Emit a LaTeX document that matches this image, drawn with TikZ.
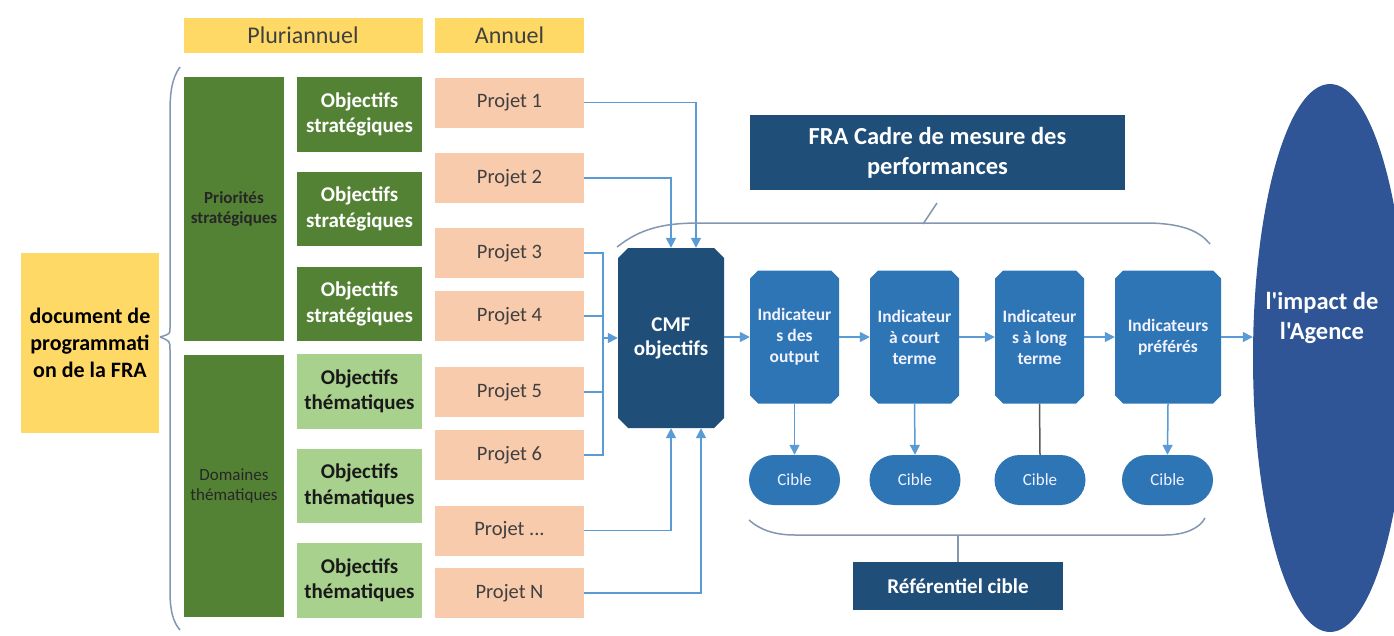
\documentclass[tikz,border=0pt]{standalone}
\usepackage{fontspec}
\setmainfont{Carlito}[Ligatures=TeXOff]
\usetikzlibrary{shapes.misc,shapes.geometric,arrows.meta}
\definecolor{yel}{HTML}{FFD966}
\definecolor{dgreen}{HTML}{548235}
\definecolor{lgreen}{HTML}{A9D18E}
\definecolor{peach}{HTML}{F8CBAD}
\definecolor{navy}{HTML}{1F4E79}
\definecolor{midblue}{HTML}{2E75B6}
\definecolor{ellblue}{HTML}{2F5597}
\definecolor{conn}{HTML}{5B9BD5}
\definecolor{bracec}{HTML}{8497B0}
\definecolor{txtd}{HTML}{404040}
\begin{document}
\begin{tikzpicture}[x=1pt,y=-1pt,
  box/.style={rectangle,inner sep=0pt,align=center,draw=none},
  hdr/.style={box,fill=yel,minimum width=239pt,minimum height=35pt,text=txtd,font=\fontsize{24}{29}\selectfont},
  col/.style={box,fill=dgreen,minimum width=100pt,text=black!85,font=\fontsize{17}{20.5}\selectfont},
  objs/.style={box,fill=dgreen,minimum width=125pt,text=white,font=\bfseries\fontsize{21}{25.5}\selectfont},
  objt/.style={box,fill=lgreen,minimum width=125pt,text=black!90,font=\bfseries\fontsize{21}{25.5}\selectfont},
  proj/.style={box,fill=peach,minimum width=149pt,minimum height=50pt,text=txtd,font=\fontsize{20.5}{25}\selectfont},
  chbox/.style={chamfered rectangle,chamfered rectangle xsep=4pt,chamfered rectangle ysep=4pt,inner sep=0pt,align=center,draw=none},
  indic/.style={chbox,fill=midblue,minimum height=133pt,text=white!95!blue,font=\bfseries\fontsize{17.5}{21}\selectfont},
  cible/.style={box,fill=midblue,rounded corners=25pt,minimum width=91pt,minimum height=50pt,text=white!95!blue,font=\fontsize{17}{20}\selectfont},
  titlebox/.style={box,fill=navy,text=white,font=\bfseries\fontsize{24.5}{30}\selectfont},
  arr/.style={draw=conn,line width=1.5pt,-{Triangle[length=10pt,width=10pt]}},
  plain/.style={draw=conn,line width=1.5pt},
  brace/.style={draw=bracec,line width=1.5pt}
]
\useasboundingbox[fill=white] (0,0) rectangle (1394,635);

% headers
\node[hdr] (plur) at (303,35) {Pluriannuel};
\node[hdr,minimum width=149pt] (ann) at (509.5,35) {Annuel};

% document box
\node[box,fill=yel,minimum width=138pt,minimum height=180pt,text=black,font=\bfseries\fontsize{22}{27}\selectfont] (doc) at (90,343) {document de\\programmati\\on de la FRA};

% columns
\node[col,minimum height=264pt,font=\bfseries\fontsize{17}{20.5}\selectfont] (prio) at (234,209) {Priorités\\stratégiques};
\node[col,minimum height=262pt] (dom) at (234,486) {Domaines\\thématiques};

% objectives
\node[objs,minimum height=75pt] (os1) at (359.5,114.5) {Objectifs\\stratégiques};
\node[objs,minimum height=74pt] (os2) at (359.5,209) {Objectifs\\stratégiques};
\node[objs,minimum height=74pt] (os3) at (359.5,304) {Objectifs\\stratégiques};
\node[objt,minimum height=75pt] (ot1) at (359.5,391.5) {Objectifs\\thématiques};
\node[objt,minimum height=74pt] (ot2) at (359.5,486) {Objectifs\\thématiques};
\node[objt,minimum height=75pt] (ot3) at (359.5,580.5) {Objectifs\\thématiques};

% projects
\node[proj] (p1) at (509.5,102.5) {Projet 1};
\node[proj] (p2) at (509.5,178) {Projet 2};
\node[proj] (p3) at (509.5,253) {Projet 3};
\node[proj] (p4) at (509.5,316) {Projet 4};
\node[proj] (p5) at (509.5,392) {Projet 5};
\node[proj] (p6) at (509.5,455) {Projet 6};
\node[proj] (pd) at (509.5,530.5) {Projet ...};
\node[proj] (pN) at (509.5,593) {Projet N};

% CMF and indicators
\node[chbox,fill=navy,minimum width=106pt,minimum height=180pt,text=white,font=\bfseries\fontsize{21}{24}\selectfont,chamfered rectangle xsep=5pt,chamfered rectangle ysep=5pt] (cmf) at (671,338) {CMF\\objectifs};
\node[indic,minimum width=89pt] (i1) at (794.5,337) {Indicateur\\s des\\output};
\node[indic,minimum width=89pt] (i2) at (914.5,337) {Indicateur\\à court\\terme};
\node[indic,minimum width=89pt] (i3) at (1039.5,337) {Indicateur\\s à long\\terme};
\node[indic,minimum width=106pt] (i4) at (1168,337) {Indicateurs\\préférés};

\node[cible] (c1) at (794.5,480) {Cible};
\node[cible] (c2) at (915,480) {Cible};
\node[cible] (c3) at (1040,480) {Cible};
\node[cible] (c4) at (1167.5,480) {Cible};

% titles
\node[titlebox,minimum width=375pt,minimum height=75pt] (fra) at (937.5,152.5) {FRA Cadre de mesure des\\performances};
\node[titlebox,minimum width=210pt,minimum height=48pt,font=\bfseries\fontsize{21}{25}\selectfont] (ref) at (958,586) {Référentiel cible};

% ellipse
\node[ellipse,fill=ellblue,minimum width=154pt,minimum height=548pt,inner sep=0pt] (imp) at (1330,358) {};
\node[box,text=white,font=\bfseries\fontsize{24.5}{30}\selectfont] (impt) at (1322,318) {l'impact de\\l'Agence};

% connectors from projects
\draw[arr] (p1.east) -| ([xshift=25pt]cmf.north);
\draw[arr] (p2.east) -| (cmf.north);
\coordinate (bus) at (603,338);
\draw[plain] (p3.east) -| (bus);
\draw[plain] (p4.east) -| (bus);
\draw[plain] (p5.east) -| (bus);
\draw[plain] (p6.east) -| (bus);
\draw[arr] (bus) -- (cmf.west);
\draw[arr] (pd.east) -| (cmf.south);
\draw[arr] (pN.east) -| ([xshift=30pt]cmf.south);

% chain
\draw[arr] (cmf.east |- i1.west) -- (i1.west);
\draw[arr] (i1.east) -- (i2.west);
\draw[arr] (i2.east) -- (i3.west);
\draw[arr] (i3.east) -- (i4.west);
\draw[arr] (i4.east) -- (imp.west |- i4.east);

\draw[arr] (i1.south) -- (c1.north);
\draw[arr] (i2.south) -- (c2.north);
\draw[draw=black!65,line width=1.5pt] (i3.south) -- (c3.north);
\draw[arr] (i4.south) -- (c4.north);

% braces
\draw[brace] (180,67) .. controls (172,78) and (170,92) .. (170,112) -- (170,328) .. controls (170,334) .. (160,337);
\draw[brace] (160,337) .. controls (170,341) .. (170,350) -- (170,592) .. controls (170,610) and (173,622) .. (180,630);
\coordinate (tb) at (923,224);
\draw[brace] (617,247) .. controls (640,229) and (662,223) .. (700,223) -- (1150,223) .. controls (1185,224) and (1200,232) .. (1210,244);
\draw[brace] (tb) -- (937,203);
\coordinate (bb) at (958,535);
\draw[brace] (749,520) .. controls (760,530) and (775,535) .. (795,535) -- (1165,535) .. controls (1185,535) and (1200,528) .. (1205,518);
\draw[brace] (bb) -- (ref.north);
\end{tikzpicture}
\end{document}
